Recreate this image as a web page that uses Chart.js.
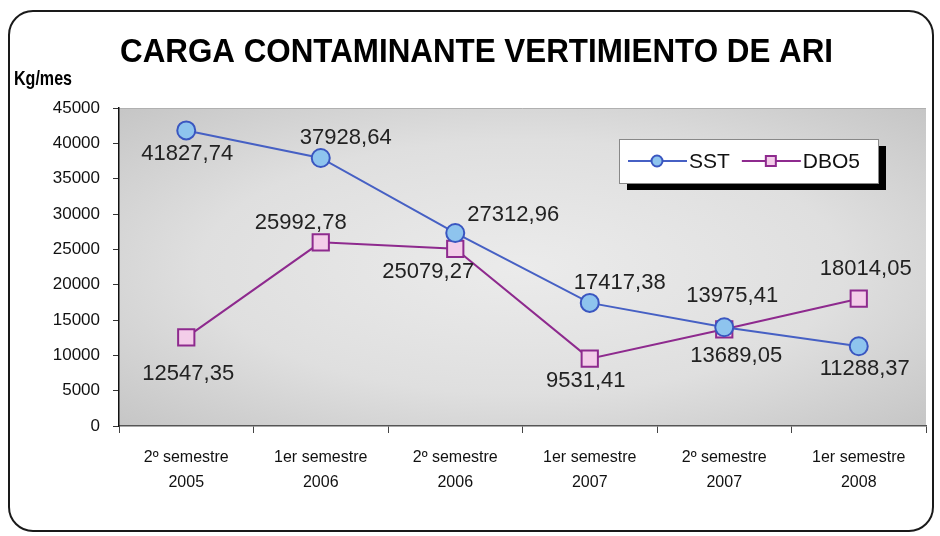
<!DOCTYPE html>
<html>
<head>
<meta charset="utf-8">
<script src="https://cdn.jsdelivr.net/npm/chart.js@4.4.1/dist/chart.umd.min.js"></script>
<style>
  body { margin: 0; background: #fff; }
  #grafico { display: block; }
</style>
</head>
<body>
<canvas id="grafico" width="940" height="536"></canvas>
<script>
// datos del grafico
const periodos = [
    ['2º semestre', '2005'],
    ['1er semestre', '2006'],
    ['2º semestre', '2006'],
    ['1er semestre', '2007'],
    ['2º semestre', '2007'],
    ['1er semestre', '2008']
];
const valoresSST = [41827.74, 37928.64, 27312.96, 17417.38, 13975.41, 11288.37];
const valoresDBO5 = [12547.35, 25992.78, 25079.27, 9531.41, 13689.05, 18014.05];
const ejeMin = 0;
const ejeMax = 45000;
const ejePaso = 5000;

const tituloTexto = 'CARGA CONTAMINANTE VERTIMIENTO DE ARI';
const unidadTexto = 'Kg/mes';

const fuenteNormal = "'Liberation Sans', Arial, sans-serif";

// formato con coma decimal
function formatear(v) {
    return v.toFixed(2).replace('.', ',');
}

// texto comprimido a lo ancho
function textoAjustado(ctx, texto, x, y, ancho) {
    const w = ctx.measureText(texto).width;
    ctx.save();
    ctx.translate(x, y);
    ctx.scale(ancho / w, 1);
    ctx.fillText(texto, 0, 0);
    ctx.restore();
}

// marco redondeado, fondo del area y titulo
const marcoPlugin = {
    id: 'marco',
    beforeDraw(chart) {
        const ctx = chart.ctx;
        const a = chart.chartArea;
        ctx.save();
        ctx.fillStyle = '#fff';
        ctx.fillRect(0, 0, chart.width, chart.height);

        // borde del grafico
        ctx.beginPath();
        ctx.roundRect(9, 11, 924, 520, 24);
        ctx.lineWidth = 2;
        ctx.strokeStyle = '#1a1a1a';
        ctx.stroke();

        // fondo gris con degradado
        const cx = (a.left + a.right) / 2;
        const cy = (a.top + a.bottom) / 2;
        const sx = (a.right - a.left) / 2;
        const sy = (a.bottom - a.top) / 2;
        ctx.save();
        ctx.beginPath();
        ctx.rect(a.left, a.top, a.right - a.left, a.bottom - a.top);
        ctx.clip();
        ctx.translate(cx, cy);
        ctx.scale(sx, sy);
        const g = ctx.createRadialGradient(0, 0, 0, 0, 0, 1.45);
        g.addColorStop(0, '#ebebeb');
        g.addColorStop(0.55, '#dfdfdf');
        g.addColorStop(1, '#c4c4c4');
        ctx.fillStyle = g;
        ctx.fillRect(-1, -1, 2, 2);
        ctx.restore();

        // linea superior del area
        ctx.strokeStyle = '#b0b0b0';
        ctx.lineWidth = 1;
        ctx.beginPath();
        ctx.moveTo(a.left, a.top + 0.5);
        ctx.lineTo(a.right, a.top + 0.5);
        ctx.stroke();

        // titulo
        ctx.fillStyle = '#000';
        ctx.textAlign = 'left';
        ctx.textBaseline = 'alphabetic';
        ctx.font = "bold 33px " + fuenteNormal;
        textoAjustado(ctx, tituloTexto, 120, 62, 713);

        // unidad del eje y
        ctx.font = "bold 21px " + fuenteNormal;
        textoAjustado(ctx, unidadTexto, 14, 85, 58);
        ctx.restore();
    }
};

// etiquetas de valores y leyenda
const etiquetasPlugin = {
    id: 'etiquetas',
    afterDatasetsDraw(chart, args, opts) {
        const ctx = chart.ctx;
        ctx.save();
        ctx.font = '22px ' + fuenteNormal;
        ctx.fillStyle = '#222';
        ctx.textAlign = 'center';
        ctx.textBaseline = 'middle';
        chart.data.datasets.forEach((ds, i) => {
            const meta = chart.getDatasetMeta(i);
            const desp = opts.desplazamientos[i];
            meta.data.forEach((p, j) => {
                ctx.fillText(formatear(ds.data[j]), p.x + desp[j][0], p.y + desp[j][1]);
            });
        });

        // leyenda con sombra
        const L = opts.leyenda;
        ctx.fillStyle = '#000';
        ctx.fillRect(L.x + 8, L.y + 7, L.w, L.h);
        ctx.fillStyle = '#fff';
        ctx.fillRect(L.x, L.y, L.w, L.h);
        ctx.strokeStyle = '#888';
        ctx.lineWidth = 1;
        ctx.strokeRect(L.x + 0.5, L.y + 0.5, L.w, L.h);

        const cyL = L.y + L.h / 2;
        let x = L.x + 9;
        ctx.textAlign = 'left';
        ctx.font = '21px ' + fuenteNormal;
        chart.data.datasets.forEach((ds) => {
            ctx.strokeStyle = ds.borderColor;
            ctx.lineWidth = 2;
            ctx.beginPath();
            ctx.moveTo(x, cyL);
            ctx.lineTo(x + 59, cyL);
            ctx.stroke();
            ctx.fillStyle = ds.pointBackgroundColor;
            ctx.strokeStyle = ds.pointBorderColor;
            ctx.lineWidth = 2;
            ctx.beginPath();
            if (ds.pointStyle === 'circle') {
                ctx.arc(x + 29, cyL, 5.5, 0, Math.PI * 2);
            } else {
                ctx.rect(x + 24, cyL - 5, 10, 10);
            }
            ctx.fill();
            ctx.stroke();
            ctx.fillStyle = '#111';
            ctx.fillText(ds.label, x + 61, cyL + 1);
            x += 61 + ctx.measureText(ds.label).width + 12;
        });
        ctx.restore();
    }
};

const dataGrafico = {
    labels: periodos,
    datasets: [
        {
            label: 'SST',
            data: valoresSST,
            borderColor: '#4660c4',
            backgroundColor: '#8ec4ee',
            pointBackgroundColor: '#8ec4ee',
            pointBorderColor: '#3a56c0',
            pointStyle: 'circle',
            pointRadius: 9,
            pointBorderWidth: 2,
            borderWidth: 2,
            tension: 0
        },
        {
            label: 'DBO5',
            data: valoresDBO5,
            borderColor: '#8e2a8e',
            backgroundColor: '#f3cde9',
            pointBackgroundColor: '#f3cde9',
            pointBorderColor: '#8e2a8e',
            pointStyle: 'rect',
            pointRadius: 11.5,
            pointBorderWidth: 2,
            borderWidth: 2,
            tension: 0
        }
    ]
};

const config = {
    type: 'line',
    data: dataGrafico,
    options: {
        responsive: false,
        animation: false,
        devicePixelRatio: 1,
        layout: {
            padding: { left: 10, top: 108, right: 14, bottom: 10 }
        },
        plugins: {
            legend: { display: false },
            tooltip: { enabled: false },
            title: { display: false },
            etiquetas: {
                desplazamientos: [
                    [[1, 24], [25, -20], [58, -18], [30, -20], [8, -31], [6, 23]],
                    [[2, 37], [-20, -19], [-27, 23], [-4, 22], [12, 27], [7, -30]]
                ],
                leyenda: { x: 619, y: 139, w: 259, h: 44 }
            }
        },
        scales: {
            x: {
                offset: true,
                grid: {
                    display: true,
                    offset: true,
                    drawOnChartArea: false,
                    tickLength: 7,
                    color: '#444'
                },
                border: { color: '#555', width: 1.5 },
                ticks: {
                    color: '#111',
                    font: { family: fuenteNormal, size: 16, lineHeight: 1.55 },
                    padding: 12,
                    maxRotation: 0,
                    autoSkip: false
                },
                afterFit(scale) { scale.height = 100; }
            },
            y: {
                min: ejeMin,
                max: ejeMax,
                grid: {
                    display: true,
                    drawOnChartArea: false,
                    tickLength: 6,
                    color: '#333'
                },
                border: { color: '#111', width: 1.5 },
                ticks: {
                    stepSize: ejePaso,
                    color: '#111',
                    font: { family: fuenteNormal, size: 17 },
                    padding: 13,
                    callback: (v) => String(v)
                },
                afterFit(scale) { scale.width = 109; }
            }
        }
    },
    plugins: [marcoPlugin, etiquetasPlugin]
};

const miGrafico = new Chart(document.getElementById('grafico'), config);
</script>
</body>
</html>
